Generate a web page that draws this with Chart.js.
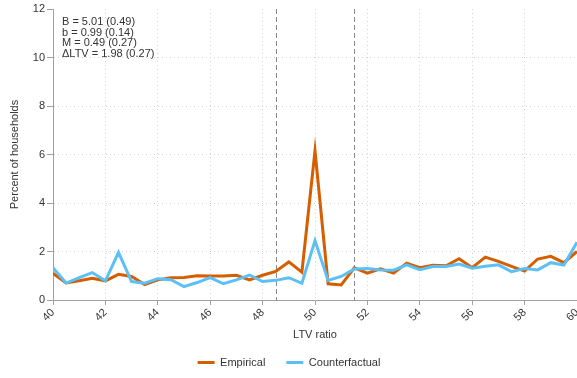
<!DOCTYPE html>
<html>
<head>
<meta charset="utf-8">
<script src="https://cdn.jsdelivr.net/npm/chart.js@4"></script>
<style>
  html, body { margin: 0; padding: 0; background: #fff; }
  #wrap { width: 577px; height: 378px; }
</style>
</head>
<body>
<div id="wrap"><canvas id="c" width="577" height="378"></canvas></div>
<script>
// LTV ratio bins (percent)
const ltv = [40, 40.5, 41, 41.5, 42, 42.5, 43, 43.5, 44, 44.5, 45, 45.5, 46, 46.5, 47, 47.5,
             48, 48.5, 49, 49.5, 50, 50.5, 51, 51.5, 52, 52.5, 53, 53.5, 54, 54.5, 55, 55.5,
             56, 56.5, 57, 57.5, 58, 58.5, 59, 59.5, 60];

// Share of households in each bin
const empirical = [1.10, 0.70, 0.79, 0.90, 0.79, 1.06, 0.97, 0.64, 0.83, 0.92, 0.93, 1.00,
                   0.99, 0.99, 1.02, 0.83, 1.02, 1.18, 1.57, 1.15, 6.15, 0.67, 0.62, 1.33,
                   1.11, 1.29, 1.11, 1.52, 1.33, 1.43, 1.41, 1.70, 1.33, 1.77, 1.59, 1.39,
                   1.19, 1.69, 1.80, 1.54, 2.00];
const counterfactual = [1.33, 0.70, 0.92, 1.13, 0.79, 1.96, 0.76, 0.69, 0.88, 0.84, 0.55, 0.72,
                        0.92, 0.67, 0.83, 1.03, 0.76, 0.81, 0.92, 0.69, 2.45, 0.81, 0.97, 1.28,
                        1.30, 1.24, 1.23, 1.45, 1.25, 1.38, 1.38, 1.48, 1.31, 1.39, 1.45, 1.17,
                        1.30, 1.24, 1.54, 1.44, 2.38];

// Bunching window bounds
const windowBounds = [48.5, 51.5];

// Estimated parameters (standard errors)
const statLines = ['B = 5.01 (0.49)', 'b = 0.99 (0.14)', 'M = 0.49 (0.27)', '\u0394LTV = 1.98 (0.27)'];

const seriesNames = ['Empirical', 'Counterfactual'];
const seriesColors = ['#D55E00', '#5BC0F5'];

const FONT = "'Liberation Sans', Arial, sans-serif";
const TEXT = '#333333';
const AXIS = '#a0a0a0';
const GRID = '#d4d4d4';

const toPoints = vals => vals.map((v, i) => ({ x: ltv[i], y: v }));

// Dashed verticals at the window bounds plus the parameter box
const overlay = {
  id: 'overlay',
  beforeDatasetsDraw(chart) {
    const { ctx, chartArea, scales } = chart;
    ctx.save();
    ctx.strokeStyle = '#8a8a8a';
    ctx.lineWidth = 1;
    ctx.setLineDash([5, 3]);
    windowBounds.forEach(v => {
      const x = Math.round(scales.x.getPixelForValue(v)) + 0.5;
      ctx.beginPath();
      ctx.moveTo(x, chartArea.top);
      ctx.lineTo(x, chartArea.bottom);
      ctx.stroke();
    });
    ctx.restore();
  },
  afterDraw(chart) {
    const { ctx, chartArea } = chart;
    ctx.save();
    ctx.font = '11px ' + FONT;
    ctx.fillStyle = TEXT;
    ctx.textBaseline = 'middle';
    ctx.textAlign = 'left';
    statLines.forEach((s, i) => {
      ctx.fillText(s, chartArea.left + 9, chartArea.top + 13 + i * 10.7);
    });
    ctx.restore();
  }
};

new Chart(document.getElementById('c'), {
  type: 'line',
  data: {
    datasets: [
      { label: seriesNames[0], data: toPoints(empirical), borderColor: seriesColors[0],
        backgroundColor: seriesColors[0], borderWidth: 3, pointRadius: 0, tension: 0, order: 2 },
      { label: seriesNames[1], data: toPoints(counterfactual), borderColor: seriesColors[1],
        backgroundColor: seriesColors[1], borderWidth: 3, pointRadius: 0, tension: 0, order: 1 }
    ]
  },
  options: {
    responsive: false,
    animation: false,
    devicePixelRatio: 1,
    layout: { padding: { left: 0, right: -1, top: 9, bottom: 0 } },
    plugins: {
      tooltip: { enabled: false },
      legend: {
        position: 'bottom',
        labels: {
          boxWidth: 17, boxHeight: 3, padding: 21, color: TEXT,
          font: { family: FONT, size: 11 },
          sort: (a, b) => a.datasetIndex - b.datasetIndex,
          generateLabels: chart => chart.data.datasets.map((d, i) => ({
            text: d.label, fillStyle: d.borderColor, strokeStyle: d.borderColor,
            lineWidth: 0, datasetIndex: i, hidden: false, fontColor: TEXT
          }))
        }
      }
    },
    scales: {
      x: {
        type: 'linear', min: 40, max: 60,
        afterFit: s => { s.height = 36; s.paddingRight = 0; s.paddingLeft = 0; },
        ticks: { stepSize: 2, maxRotation: 45, minRotation: 45, padding: 1, color: TEXT,
                 font: { family: FONT, size: 11 } },
        grid: {
          color: c => (c.tick && (c.tick.value === 40 || c.tick.value === 60)) ? 'rgba(0,0,0,0)' : GRID,
          lineWidth: 1, tickLength: 5, tickColor: AXIS, tickBorderDash: []
        },
        border: { display: true, color: AXIS, width: 1, dash: [1, 3] },
        title: { display: true, text: 'LTV ratio', color: TEXT, font: { family: FONT, size: 11 },
                 padding: { top: 0, bottom: -6 } }
      },
      y: {
        min: 0, max: 12,
        afterFit: s => { s.width = 53; },
        ticks: { stepSize: 2, padding: 2, color: TEXT, font: { family: FONT, size: 11 } },
        grid: {
          color: c => (c.tick && (c.tick.value === 0 || c.tick.value === 12)) ? 'rgba(0,0,0,0)' : GRID,
          lineWidth: 1, tickLength: 6, tickColor: AXIS, tickBorderDash: []
        },
        border: { display: true, color: AXIS, width: 1, dash: [1, 3] },
        title: { display: true, text: 'Percent of households', color: TEXT,
                 font: { family: FONT, size: 11 }, padding: { top: 8, bottom: 0 } }
      }
    }
  },
  plugins: [overlay]
});
</script>
</body>
</html>
